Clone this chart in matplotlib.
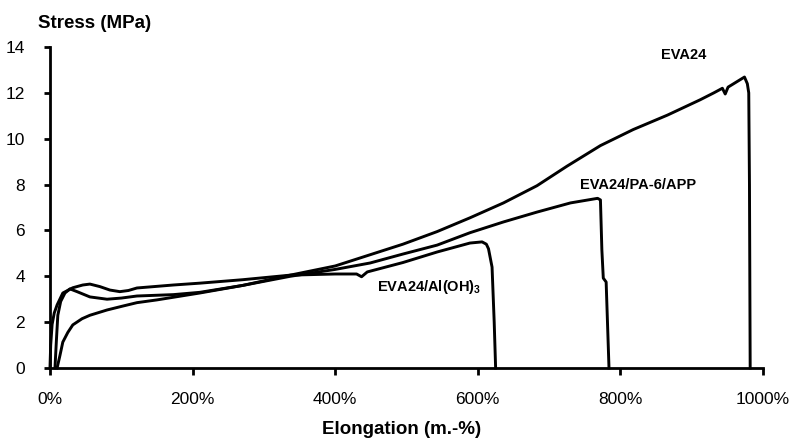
# Stress-strain curves for EVA24 and its blends
import matplotlib
matplotlib.use('Agg')
import matplotlib.pyplot as plt
from matplotlib.ticker import FuncFormatter

plt.rcParams['font.family'] = ['Liberation Sans', 'DejaVu Sans']
plt.rcParams['mathtext.fontset'] = 'custom'
plt.rcParams['mathtext.rm'] = 'Liberation Sans:bold'
plt.rcParams['mathtext.default'] = 'rm'

# elongation (%) / stress (MPa)
eva_x = [10, 14, 18, 25, 32, 45, 56, 80, 102, 122, 150, 210, 270, 337, 400, 450,
         495, 543, 589, 636, 683, 725, 772, 818, 866, 912, 931, 943, 947, 951,
         974, 978, 980, 981, 982]
eva_y = [0, 0.55, 1.13, 1.55, 1.88, 2.15, 2.3, 2.53, 2.7, 2.85, 2.97, 3.27, 3.6,
         4.05, 4.45, 4.95, 5.4, 5.95, 6.55, 7.2, 7.95, 8.8, 9.7, 10.4, 11.03,
         11.7, 12.0, 12.2, 11.95, 12.25, 12.69, 12.4, 12.0, 8.0, 0]

pa_x = [7, 9, 11, 15, 21, 28, 38, 56, 80, 100, 122, 173, 210, 270, 337, 400, 449,
        495, 543, 589, 636, 683, 730, 768, 772, 774, 776, 780, 784]
pa_y = [0, 1.2, 2.3, 2.9, 3.27, 3.45, 3.33, 3.1, 3.0, 3.05, 3.14, 3.2, 3.3, 3.6,
        4.0, 4.3, 4.58, 4.97, 5.36, 5.9, 6.37, 6.8, 7.2, 7.4, 7.33, 5.15, 3.92,
        3.75, 0]

al_x = [0, 1, 3, 6, 10, 18, 32, 46, 56, 70, 84, 98, 110, 122, 173, 210, 270, 337,
        400, 430, 437, 445, 495, 543, 589, 606, 612, 615, 620, 623, 625]
al_y = [0, 1.0, 1.9, 2.4, 2.75, 3.27, 3.5, 3.62, 3.66, 3.55, 3.4, 3.33, 3.38,
        3.49, 3.62, 3.7, 3.85, 4.05, 4.1, 4.1, 3.98, 4.19, 4.6, 5.06, 5.45, 5.5,
        5.4, 5.2, 4.4, 2.0, 0]

labels = ['EVA24', 'EVA24/PA-6/APP', 'EVA24/Al(OH)$_3$']
label_x = [889, 825, 532]
label_y = [13.65, 7.98, 3.53]

fig = plt.figure(figsize=(7.92, 4.43), dpi=100)
ax = fig.add_axes([0.0631, 0.1693, 0.9003, 0.7246])

for xs, ys in [(eva_x, eva_y), (pa_x, pa_y), (al_x, al_y)]:
    ax.plot(xs, ys, color='black', lw=2.1, solid_joinstyle='round', clip_on=False)

for t, x, y in zip(labels, label_x, label_y):
    ax.text(x, y, t, ha='center', va='center', fontsize=10.5, fontweight='bold')

ax.set_xlim(0, 1000)
ax.set_ylim(0, 14)
ax.set_xticks(range(0, 1001, 200))
ax.set_yticks(range(0, 15, 2))
ax.xaxis.set_major_formatter(FuncFormatter(lambda v, p: '%d%%' % v))

for s in ['top', 'right']:
    ax.spines[s].set_visible(False)
for s in ['left', 'bottom']:
    ax.spines[s].set_linewidth(2)

ax.tick_params(axis='y', direction='out', length=4, width=2, labelsize=12.5, pad=14)
ax.tick_params(axis='x', direction='out', length=5, width=2, labelsize=12.5, pad=12)

fig.text(38 / 792, 1 - 24 / 443, 'Stress (MPa)', ha='left', va='center',
         fontsize=13.5, fontweight='bold')
fig.text(402 / 792, 1 - 429 / 443, 'Elongation (m.-%)', ha='center', va='center',
         fontsize=13.5, fontweight='bold')

fig.savefig('out.png', dpi=100)
